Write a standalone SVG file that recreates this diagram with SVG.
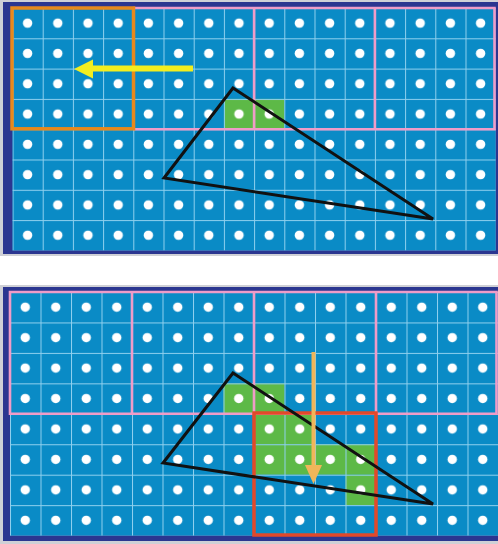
<svg xmlns="http://www.w3.org/2000/svg" width="498" height="544" viewBox="0 0 498 544">
  <defs>
    <pattern id="gridA" patternUnits="userSpaceOnUse" x="12.5" y="8" width="30.2" height="30.3">
      <rect x="0" y="0" width="30.2" height="1" fill="#8fd0ee"/>
      <rect x="0" y="0" width="1" height="30.3" fill="#8fd0ee"/>
      <circle cx="15.1" cy="15.15" r="4.7" fill="#ffffff"/>
    </pattern>
    <pattern id="gridB" patternUnits="userSpaceOnUse" x="10" y="292" width="30.5" height="30.45">
      <rect x="0" y="0" width="30.5" height="1" fill="#8fd0ee"/>
      <rect x="0" y="0" width="1" height="30.45" fill="#8fd0ee"/>
      <circle cx="15.25" cy="15.2" r="4.7" fill="#ffffff"/>
    </pattern>
    <style>
      .frame { fill: #cfd0d6; }
      .navy { fill: #2b3690; }
      .cellbg { fill: #0a8bc6; }
      .green { fill: #5db947; }
      .pink { fill: none; stroke: #ef9cc8; stroke-width: 2.6; }
      .tri { fill: none; stroke: #111111; stroke-width: 3; stroke-linejoin: miter; }
    </style>
  </defs>

  <rect x="0" y="0" width="498" height="544" fill="#ffffff"/>

  <g id="panel-top">
    <rect class="frame" x="0" y="0" width="498" height="256"/>
    <rect class="navy" x="3" y="2" width="495" height="252"/>
    <rect class="cellbg" x="12.5" y="8" width="483.2" height="242.4"/>
    <rect class="green" x="223.9" y="98.9" width="60.4" height="30.3"/>
    <rect x="12.5" y="8" width="483.2" height="242.4" fill="url(#gridA)"/>
    <path class="pink" d="M133.3,8 H494.5 V129.2 H133.3 M254.1,8 V129.2 M374.9,8 V129.2"/>
    <rect x="12" y="8" width="121.5" height="120.8" fill="none" stroke="#e8891c" stroke-width="3.5"/>
    <g id="arrow-left">
      <line x1="193" y1="68.5" x2="88" y2="68.5" stroke="#f3ee1f" stroke-width="6"/>
      <polygon points="74,69 93,59.5 93,78.5" fill="#f3ee1f"/>
    </g>
    <polygon class="tri" points="233,88 164,178 433,219"/>
  </g>

  <g id="panel-bottom">
    <rect class="frame" x="0" y="285" width="498" height="259"/>
    <rect class="navy" x="3" y="287" width="495" height="254"/>
    <rect class="cellbg" x="10" y="292" width="488" height="243.6"/>
    <rect class="green" x="223.5" y="383.35" width="61" height="30.45"/>
    <rect class="green" x="254" y="413.8" width="61" height="30.45"/>
    <rect class="green" x="254" y="444.25" width="122" height="30.45"/>
    <rect class="green" x="345.5" y="474.7" width="30.5" height="30.45"/>
    <rect x="10" y="292" width="488" height="243.6" fill="url(#gridB)"/>
    <path class="pink" d="M10,292 H496.5 V413.8 H10 Z M132,292 V413.8 M254,292 V413.8 M376,292 V413.8"/>
    <rect x="254" y="413" width="122" height="122" fill="none" stroke="#e2492a" stroke-width="3.5"/>
    <polygon class="tri" points="233,373 163,463 433,504"/>
    <g id="arrow-down">
      <line x1="313.5" y1="352" x2="313.5" y2="468" stroke="#f0b65a" stroke-width="4"/>
      <polygon points="313.5,484 305,465 322,465" fill="#f0b65a"/>
    </g>
  </g>
</svg>
